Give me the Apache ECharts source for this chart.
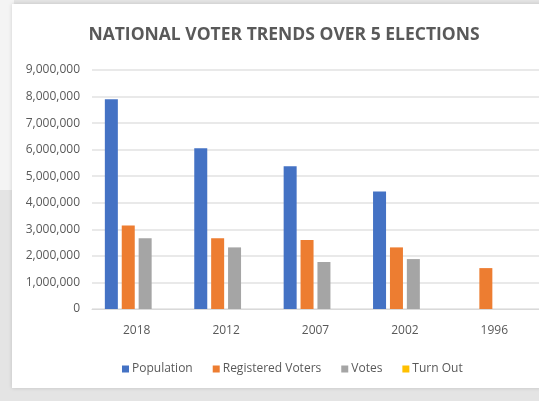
<!DOCTYPE html>
<html>
<head>
<meta charset="utf-8">
<script src="https://cdn.jsdelivr.net/npm/echarts@6/dist/echarts.min.js"></script>
<style>
  html, body { margin: 0; padding: 0; background: #e4e4e4; }
  #chart { width: 539px; height: 401px; }
</style>
</head>
<body>
<div id="chart"></div>
<script>
var years = ['2018', '2012', '2007', '2002', '1996'];
var population = [7900000, 6050000, 5380000, 4420000, null];
var registeredVoters = [3140000, 2660000, 2600000, 2320000, 1540000];
var votes = [2660000, 2320000, 1770000, 1880000, null];
var turnOut = [0.84, 0.87, 0.68, 0.81, null];

var chart = echarts.init(document.getElementById('chart'));
var textColor = '#595959';
var font = '"Open Sans", "Liberation Sans", sans-serif';

var option = {
    backgroundColor: '#e4e4e4',
    animation: false,
    graphic: [
        {type: 'rect', left: 0, top: 0, shape: {width: 14, height: 190}, style: {fill: '#f4f4f4'}, z: -10},
        {type: 'rect', left: 12, top: 4, shape: {width: 540, height: 384}, style: {fill: '#ffffff', shadowColor: 'rgba(0,0,0,0.15)', shadowBlur: 4}, z: -9}
    ],
    title: {
        text: 'NATIONAL VOTER TRENDS OVER 5 ELECTIONS',
        left: 279,
        top: 21,
        textAlign: 'center',
        textStyle: {color: textColor, fontSize: 17.5, fontWeight: 'bold', fontFamily: font}
    },
    legend: {
        data: ['Population', 'Registered Voters', 'Votes', 'Turn Out'],
        left: 117,
        top: 358,
        width: 420,
        itemWidth: 7,
        itemHeight: 7,
        itemGap: 20,
        icon: 'rect',
        textStyle: {color: textColor, fontSize: 12, fontFamily: font, padding: [0, 0, 0, -2]}
    },
    grid: {left: 92, right: -13, top: 70, bottom: 92},
    xAxis: {
        type: 'category',
        data: years,
        axisLine: {lineStyle: {color: '#d9d9d9'}},
        axisTick: {show: false},
        axisLabel: {color: textColor, fontSize: 12, fontFamily: font, margin: 16}
    },
    yAxis: {
        type: 'value',
        min: 0,
        max: 9000000,
        interval: 1000000,
        axisLine: {show: false},
        axisTick: {show: false},
        splitLine: {lineStyle: {color: '#e2e2e2', width: 1.5}},
        axisLabel: {
            color: textColor, fontSize: 12, fontFamily: font, margin: 12,
            formatter: function (v) { return v.toLocaleString('en-US'); }
        }
    },
    series: [
        {name: 'Population', type: 'bar', data: population, itemStyle: {color: '#4472c4'}, barWidth: 13, barGap: '30%'},
        {name: 'Registered Voters', type: 'bar', data: registeredVoters, itemStyle: {color: '#ed7d31'}, barWidth: 13, barGap: '30%'},
        {name: 'Votes', type: 'bar', data: votes, itemStyle: {color: '#a5a5a5'}, barWidth: 13, barGap: '30%'},
        {name: 'Turn Out', type: 'bar', data: turnOut, itemStyle: {color: '#ffc000'}, barWidth: 13, barGap: '30%'}
    ]
};
chart.setOption(option);
</script>
</body>
</html>
